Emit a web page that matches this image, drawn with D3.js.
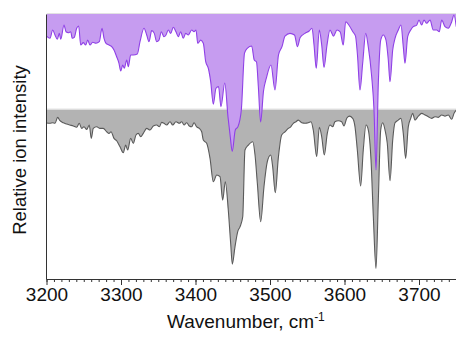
<!DOCTYPE html>
<html>
<head>
<meta charset="utf-8">
<script src="https://cdn.jsdelivr.net/npm/d3@7"></script>
<style>
  body { margin: 0; background: #fff; }
  svg { display: block; font-family: "Liberation Sans", Arial, Helvetica, sans-serif; }
  .axis path, .axis line { stroke: #333; }
  .axis text { font-size: 19px; fill: #111; }
  .axis-label { font-size: 19px; fill: #111; }
</style>
</head>
<body>
<div id="chart"></div>
<script>
// Spectra as [wavenumber, depth below own baseline]
const upperSpectrum = [
  [3200,13.8],[3204.7,15.2],[3208.3,10.0],[3211.4,13.1],[3214.5,15.8],[3217.2,12.1],[3219.1,15.8],
  [3223.5,6.9],[3226.2,11.1],[3229.3,11.7],[3232.5,11.1],[3234.6,15.2],[3237.3,14.6],[3240.5,8.9],
  [3243.2,7.5],[3245.9,19.4],[3249.4,17.9],[3252.6,19.4],[3255.3,16.3],[3258.4,19.4],[3262.0,17.7],
  [3266.4,18.3],[3270.9,17.3],[3274.5,8.9],[3277.2,15.2],[3279.9,18.3],[3283.9,19.4],[3287.5,20.4],
  [3290.6,22.5],[3294.2,26.7],[3297.3,30.8],[3299.6,35.6],[3302.3,31.9],[3304.4,33.9],[3307.7,28.8],
  [3309.8,32.9],[3313.0,25.6],[3316.5,25.6],[3321.9,25.0],[3325.5,17.3],[3330.9,8.9],[3334.5,13.1],
  [3337.6,17.3],[3341.2,10.4],[3344.7,12.1],[3347.9,17.3],[3351.0,16.3],[3354.1,11.1],[3357.7,14.2],
  [3360.4,13.1],[3363.5,10.0],[3366.7,12.1],[3370.2,8.3],[3373.8,11.1],[3376.9,14.2],[3380.1,11.1],
  [3383.6,15.2],[3386.8,12.1],[3390.3,13.1],[3394.9,10.0],[3398.0,11.1],[3400.7,10.0],[3403.0,18.3],
  [3407.0,16.3],[3410.5,18.3],[3413.7,29.8],[3417.2,33.9],[3420.4,42.3],[3423.9,56.3],[3427.5,46.4],
  [3430.9,45.4],[3434.2,57.9],[3439.3,43.1],[3443.6,64.2],[3446.7,76.9],[3449.3,85.9],[3453.4,72.5],
  [3457.0,70.4],[3461.5,60.0],[3465.8,24.4],[3469.8,21.3],[3475.4,20.0],[3478.9,28.8],[3481.9,30.0],
  [3484.3,45.0],[3487.4,67.5],[3491.3,48.1],[3495.3,39.7],[3501.3,31.9],[3506.7,47.5],[3511.4,25.6],
  [3516.1,20.4],[3520.1,13.8],[3526.8,12.1],[3532.9,13.1],[3536.9,20.4],[3540.5,14.7],[3547.0,12.1],
  [3552.6,10.6],[3556.4,8.9],[3559.1,19.4],[3562.1,33.9],[3566.2,10.0],[3569.4,19.4],[3572.5,33.4],
  [3576.5,19.4],[3580.5,10.0],[3585.2,13.8],[3589.9,10.0],[3594.2,11.1],[3598.3,19.4],[3601.6,4.8],
  [3606.7,7.5],[3611.4,11.3],[3614.8,13.8],[3617.4,25.6],[3620.8,47.5],[3624.4,30.8],[3628.5,12.1],
  [3631.9,20.4],[3636.5,39.2],[3639.6,60.0],[3642.3,97.5],[3645.4,43.3],[3648.6,16.3],[3652.1,13.1],
  [3655.7,16.3],[3658.8,28.8],[3661.1,42.3],[3664.7,22.5],[3667.8,15.2],[3672.2,10.0],[3675.8,6.9],
  [3678.9,20.4],[3681.2,30.8],[3684.8,14.2],[3688.9,10.0],[3692.3,7.9],[3696.9,6.9],[3700.0,3.8],
  [3703.6,6.9],[3706.7,3.8],[3710.3,5.8],[3714.8,3.8],[3719.2,10.0],[3723.8,10.0],[3727.2,11.1],
  [3730.5,3.8],[3734.9,7.9],[3739.3,8.9],[3743.9,4.8],[3747.0,0.6],[3750,7.9]
];

const lowerSpectrum = [
  [3200,8.4],[3204.7,8.6],[3208.3,8.3],[3211.4,8.6],[3215.0,4.9],[3218.1,7.0],[3222.6,8.3],
  [3227.1,9.1],[3231.5,9.7],[3236.0,10.3],[3240.5,11.1],[3244.0,8.6],[3247.2,11.8],[3250.3,10.8],
  [3254.0,12.4],[3257.4,9.7],[3260.1,18.0],[3262.8,11.8],[3267.4,10.8],[3271.8,11.8],[3276.2,11.8],
  [3280.8,13.9],[3283.9,14.9],[3286.6,13.9],[3290.6,18.0],[3294.2,19.5],[3298.7,23.3],[3303.1,27.0],
  [3306.3,22.2],[3309.0,25.3],[3313.0,18.0],[3316.5,21.1],[3320.1,15.9],[3323.2,14.9],[3326.4,17.0],
  [3329.9,14.9],[3334.5,11.8],[3338.9,12.8],[3343.4,10.3],[3347.9,9.7],[3351.4,10.8],[3354.6,8.0],
  [3357.7,8.6],[3361.3,9.7],[3365.8,7.6],[3369.4,9.7],[3373.8,7.6],[3378.3,8.6],[3381.5,7.6],
  [3384.6,9.7],[3388.2,8.3],[3391.7,10.3],[3394.9,10.8],[3398.0,8.3],[3401.6,10.8],[3405.1,11.8],
  [3408.3,13.9],[3410.5,19.1],[3415.0,21.1],[3419.5,30.5],[3423.9,45.1],[3428.5,40.9],[3432.9,42.0],
  [3436.5,56.6],[3440.0,45.1],[3444.0,62.8],[3447.2,83.6],[3449.4,96.6],[3453.0,85.8],[3456.6,76.4],
  [3459.7,73.3],[3463.4,67.0],[3466.4,25.3],[3470.9,22.2],[3476.8,20.1],[3479.9,28.4],[3483.0,46.1],
  [3487.5,70.1],[3491.9,48.3],[3496.4,32.6],[3500.9,28.4],[3503.6,35.8],[3507.1,52.0],[3511.1,30.5],
  [3515.7,15.9],[3520.1,13.9],[3524.6,11.8],[3527.8,10.8],[3531.3,8.6],[3534.9,7.6],[3538.0,6.6],
  [3542.6,8.3],[3547.0,8.6],[3551.4,8.3],[3555.0,7.6],[3558.1,12.8],[3562.7,29.5],[3566.2,11.1],
  [3569.4,17.0],[3572.9,28.4],[3576.9,14.9],[3580.5,9.7],[3584.2,10.8],[3587.2,7.6],[3591.7,7.0],
  [3596.2,7.6],[3599.3,10.3],[3603.0,5.5],[3606.4,4.1],[3611.0,5.5],[3614.1,10.8],[3617.2,25.3],
  [3621.7,47.8],[3625.2,25.3],[3628.9,9.7],[3632.0,12.8],[3635.6,31.6],[3638.7,67.0],[3642.3,99.3],
  [3645.4,56.6],[3648.6,12.8],[3651.3,8.3],[3654.4,12.8],[3657.4,21.1],[3661.1,44.5],[3664.7,19.1],
  [3667.8,8.3],[3672.2,6.6],[3675.8,5.5],[3678.9,14.9],[3682.1,30.5],[3685.6,10.8],[3688.9,5.5],
  [3691.5,2.4],[3694.6,6.6],[3699.1,4.1],[3703.6,2.4],[3708.1,3.4],[3712.5,4.5],[3717.0,5.5],
  [3721.5,4.5],[3725.9,4.9],[3730.5,3.4],[3734.9,4.1],[3739.3,3.4],[3743.9,6.1],[3747.0,2.4],[3750,0.3]
];

const majorTicks = [3200, 3300, 3400, 3500, 3600, 3700];
const minorTicks = d3.range(3200, 3751, 10);

// baselines of the two offset traces
const upperOffset = 0;
const lowerOffset = 59.7;

const width = 456, height = 337;
const margin = { top: 14, right: 0, bottom: 58, left: 46.5 };

const svg = d3.select("#chart")
  .append("svg")
  .attr("width", width)
  .attr("height", height);

const xScale = d3.scaleLinear()
  .domain([3200, 3750])
  .range([margin.left, margin.left + 0.745 * 550]);

const yScale = d3.scaleLinear()
  .domain([0, 165.6])
  .range([margin.top, height - margin.bottom]);

svg.append("defs").append("clipPath")
  .attr("id", "plot-clip")
  .append("rect")
  .attr("x", margin.left)
  .attr("y", 0)
  .attr("width", width - margin.left)
  .attr("height", height - margin.bottom);

function drawSpectrum(data, offset, fill, stroke) {
  const area = d3.area()
    .x(d => xScale(d[0]))
    .y0(yScale(offset))
    .y1(d => yScale(offset + d[1]))
    .curve(d3.curveMonotoneX);
  const line = d3.line()
    .x(d => xScale(d[0]))
    .y(d => yScale(offset + d[1]))
    .curve(d3.curveMonotoneX);

  const g = svg.append("g").attr("clip-path", "url(#plot-clip)");
  g.append("path")
    .datum(data)
    .attr("d", area)
    .attr("fill", fill);
  // faint baseline
  g.append("line")
    .attr("x1", xScale(3200)).attr("x2", xScale(3750))
    .attr("y1", yScale(offset) - 0.5).attr("y2", yScale(offset) - 0.5)
    .attr("stroke", "#e2e2e2").attr("stroke-width", 1);
  g.append("path")
    .datum(data)
    .attr("d", line)
    .attr("fill", "none")
    .attr("stroke", stroke)
    .attr("stroke-width", 1.1);
}

// lower trace first, upper drawn on top
drawSpectrum(lowerSpectrum, lowerOffset, "#b3b3b3", "#5a5a5a");
drawSpectrum(upperSpectrum, upperOffset, "#c69cf0", "#8f40e6");

// minor ticks
svg.append("g")
  .attr("class", "axis")
  .attr("transform", `translate(0, ${height - margin.bottom})`)
  .call(d3.axisBottom(xScale).tickValues(minorTicks).tickSize(3).tickFormat("").tickSizeOuter(0))
  .call(g => g.select(".domain").remove());

// x-axis
svg.append("g")
  .attr("class", "axis x-axis")
  .attr("transform", `translate(0, ${height - margin.bottom})`)
  .call(d3.axisBottom(xScale).tickValues(majorTicks).tickSize(6).tickSizeOuter(0).tickPadding(3).tickFormat(d3.format("d")));

// y-axis spine only
svg.append("g")
  .attr("class", "axis y-axis")
  .attr("transform", `translate(${margin.left - 0.5}, 0)`)
  .call(d3.axisLeft(yScale).tickValues([]).tickSizeOuter(0));

// x-axis label
const xLabel = svg.append("text")
  .attr("class", "axis-label")
  .attr("x", 167)
  .attr("y", 328);
xLabel.append("tspan").text("Wavenumber, cm");
xLabel.append("tspan")
  .attr("dy", -7)
  .style("font-size", "12px")
  .text("-1");

// y-axis label
svg.append("text")
  .attr("class", "axis-label")
  .attr("transform", "rotate(-90)")
  .attr("x", -150)
  .attr("y", 26)
  .attr("text-anchor", "middle")
  .style("font-size", "18.5px")
  .text("Relative ion intensity");
</script>
</body>
</html>
